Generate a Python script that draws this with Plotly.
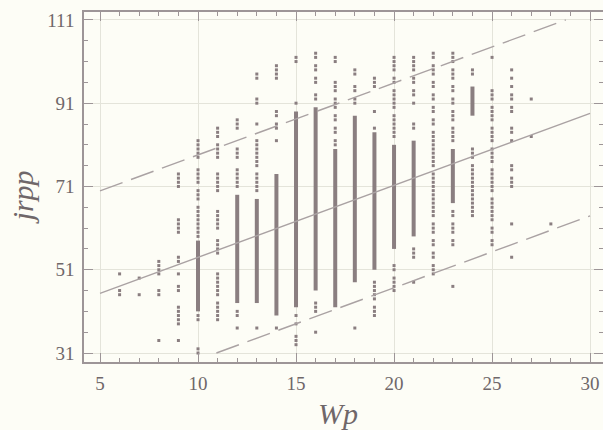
import plotly.graph_objects as go

# ---- data ----
col_x = [6, 7, 8, 9, 10, 11, 12, 13, 14, 15, 16, 17, 18, 19, 20, 21, 22, 23, 24, 25, 26, 27, 28]

# dense (solid-looking) stretch of each column, None when the column is sparse only
solid_lo = [None, None, None, None, 41, None, 43, 43, 40, 42, 46, 42, 48, 51, 56, 59, None, 67, 88, None, None, None, None]
solid_hi = [None, None, None, None, 58, None, 69, 68, 74, 89, 90, 80, 88, 84, 81, 82, None, 80, 95, None, None, None, None]

# isolated observations in each column
dots = [
    [50, 46, 45],
    [49, 45],
    [53, 52, 51, 50, 46, 45, 34],
    [74, 73, 72, 71, 63, 62, 61, 60, 54, 53, 50, 47, 46, 42, 41, 40, 39, 38, 34],
    [82, 81, 80, 79, 78, 75, 74, 73, 72, 70, 69, 68, 66, 65, 64, 63, 62, 61, 60, 59, 40, 39, 32, 31],
    [85, 84, 83, 81, 80, 79, 78, 74, 73, 72, 71, 70, 65, 64, 63, 62, 61, 58, 57, 56, 55,
     50, 49, 48, 47, 46, 45, 43, 42, 41, 40, 39],
    [87, 86, 85, 80, 79, 78, 75, 74, 73, 72, 71, 41, 40, 37],
    [98, 97, 92, 91, 86, 82, 81, 80, 79, 78, 77, 76, 74, 73, 72, 71, 70, 37],
    [100, 99, 98, 97, 89, 88, 86, 85, 82, 37],
    [102, 101, 91, 40, 38, 35, 34, 33],
    [103, 102, 100, 99, 97, 96, 93, 92, 43, 42, 41, 36],
    [102, 101, 96, 95, 94, 92, 91, 90, 88, 87, 85, 84, 82, 81],
    [99, 98, 95, 94, 92, 91, 37],
    [97, 96, 95, 89, 85, 48, 47, 46, 45, 44, 42, 41, 40],
    [102, 101, 100, 99, 97, 96, 94, 93, 92, 91, 90, 88, 87, 86, 85, 84, 83, 52, 51, 49, 48, 47, 46],
    [102, 101, 100, 99, 97, 96, 94, 93, 91, 86, 85, 56, 55, 54, 48],
    [103, 102, 100, 99, 98, 96, 95, 93, 92, 90, 89, 87, 86, 84, 83, 82, 81, 80, 79, 78, 77, 76,
     74, 73, 72, 71, 70, 69, 68, 67, 66, 65, 64, 62, 61, 60, 58, 57, 55, 54, 52, 51, 50],
    [103, 102, 101, 99, 98, 97, 95, 94, 92, 91, 89, 88, 87, 85, 84, 83, 82, 65, 64, 62, 61, 60, 58, 57, 47],
    [99, 98, 80, 79, 78, 76, 75, 74, 73, 72, 71, 70, 69, 68, 67, 66, 65, 64],
    [102, 94, 93, 92, 90, 89, 88, 87, 85, 84, 83, 82, 80, 79, 78, 77, 75, 74, 73, 72, 71, 70,
     68, 67, 66, 65, 64, 63, 61, 60, 58, 57],
    [99, 97, 95, 93, 92, 90, 89, 85, 84, 82, 76, 75, 73, 72, 71, 62, 54],
    [92, 83],
    [62],
]

# fitted line and prediction band
fit_intercept = 36.7
fit_slope = 1.728
band_halfwidth = 24.6
fit_domain = [5, 30]        # lines are drawn over this x span
band_clip = [31, 111]       # and kept inside this y span

x_ticks = [5, 10, 15, 20, 25, 30]
y_ticks = [31, 51, 71, 91, 111]

# ---- styling ----
BG = "#fdfdf6"
FRAME = "#9d9597"
GRID = "#e4e4da"
PT = "#8a7e80"
LINE = "#aaa2a3"
TXT = "#6f6769"
SERIF = "Liberation Serif"

seg_x, seg_y = [], []
for x, lo, hi in zip(col_x, solid_lo, solid_hi):
    if lo is not None:
        seg_x += [x, x, None]
        seg_y += [lo, hi, None]

dot_x, dot_y = [], []
for x, vals in zip(col_x, dots):
    dot_x += [x] * len(vals)
    dot_y += vals


def clipped(offset):
    a = fit_intercept + offset
    xs = []
    for x in fit_domain:
        y = a + fit_slope * x
        if y > band_clip[1]:
            x = (band_clip[1] - a) / fit_slope
        elif y < band_clip[0]:
            x = (band_clip[0] - a) / fit_slope
        xs.append(x)
    return xs, [a + fit_slope * x for x in xs]


fx, fy = clipped(0)
ux, uy = clipped(band_halfwidth)
lx, ly = clipped(-band_halfwidth)

fig = go.Figure()
fig.add_trace(go.Scatter(x=seg_x, y=seg_y, mode="lines",
                         line=dict(color=PT, width=4), hoverinfo="skip"))
fig.add_trace(go.Scatter(x=dot_x, y=dot_y, mode="markers",
                         marker=dict(color=PT, size=3, symbol="square", line=dict(width=0))))
fig.add_trace(go.Scatter(x=fx, y=fy, mode="lines", line=dict(color=LINE, width=1.4)))
fig.add_trace(go.Scatter(x=ux, y=uy, mode="lines",
                         line=dict(color=LINE, width=1.4, dash="24px,9px")))
fig.add_trace(go.Scatter(x=lx, y=ly, mode="lines",
                         line=dict(color=LINE, width=1.4, dash="24px,9px")))

axis_common = dict(
    showline=True, linecolor=FRAME, linewidth=1.6, mirror="ticks",
    ticks="inside", ticklen=9, tickwidth=1.2, tickcolor=FRAME,
    showgrid=True, gridcolor=GRID, gridwidth=1, zeroline=False,
    tickfont=dict(family=SERIF, size=19, color=TXT),
    automargin=False,
)

fig.update_layout(
    width=603, height=430,
    margin=dict(l=84, r=0, t=12, b=68),
    paper_bgcolor=BG, plot_bgcolor=BG,
    showlegend=False,
    xaxis=dict(range=[4.184, 30.66], tickvals=x_ticks, ticklabelstandoff=3,
               minor=dict(dtick=1, tick0=5, ticks="inside", ticklen=4.5, tickwidth=1, tickcolor=FRAME,
                          showgrid=False),
               **axis_common),
    yaxis=dict(range=[28.84, 112.9], tickvals=y_ticks, ticklabelstandoff=4,
               minor=dict(dtick=5, tick0=31, ticks="inside", ticklen=4.5, tickwidth=1, tickcolor=FRAME,
                          showgrid=False),
               **axis_common),
    annotations=[
        dict(text="<i>Wp</i>", xref="paper", yref="paper", x=0.489, y=-0.146,
             xanchor="center", yanchor="middle", showarrow=False,
             font=dict(family=SERIF, size=30, color=TXT)),
        dict(text="<i>jrpp</i>", xref="paper", yref="paper", x=-0.119, y=0.471,
             xanchor="center", yanchor="middle", showarrow=False, textangle=-90,
             font=dict(family=SERIF, size=30, color=TXT)),
    ],
)

fig.write_html(
    "out.html",
    config={"displayModeBar": False},
    post_script="document.body.style.margin='0px';document.body.style.overflow='hidden';"
                "document.body.style.background='" + BG + "';",
)
